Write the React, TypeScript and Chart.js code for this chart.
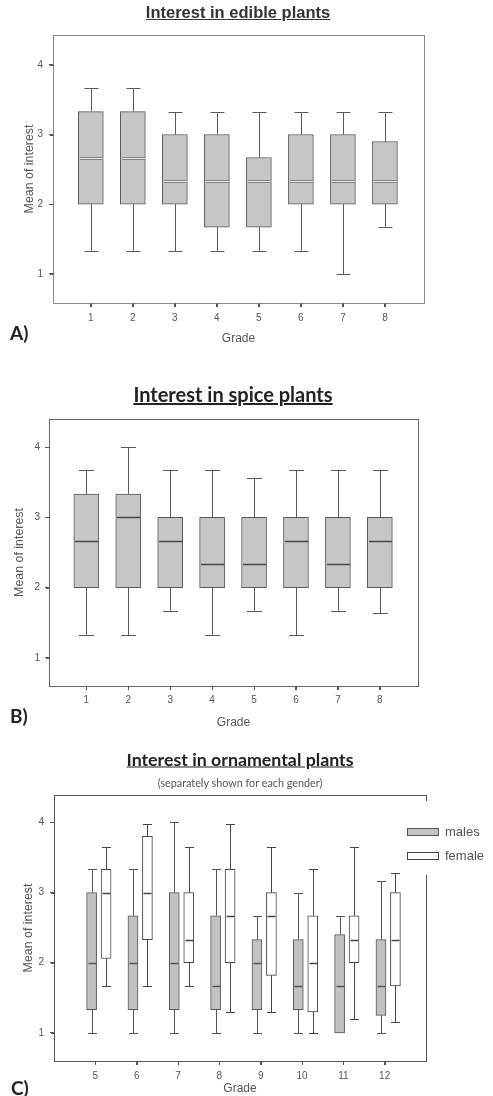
import { useEffect, useRef } from 'react';
import { Chart, registerables } from 'chart.js';

Chart.register(...registerables);

// ---------- DATA ----------
const gradesAB = [1, 2, 3, 4, 5, 6, 7, 8];

const edibleMin = [1.33, 1.33, 1.33, 1.33, 1.33, 1.33, 1.0, 1.67];
const edibleQ1 = [2, 2, 2, 1.67, 1.67, 2, 2, 2];
const edibleMedian = [2.67, 2.67, 2.33, 2.33, 2.33, 2.33, 2.33, 2.33];
const edibleQ3 = [3.33, 3.33, 3, 3, 2.67, 3, 3, 2.9];
const edibleMax = [3.67, 3.67, 3.33, 3.33, 3.33, 3.33, 3.33, 3.33];

const spiceMin = [1.33, 1.33, 1.67, 1.33, 1.67, 1.33, 1.67, 1.64];
const spiceQ1 = [2, 2, 2, 2, 2, 2, 2, 2];
const spiceMedian = [2.67, 3, 2.67, 2.33, 2.33, 2.67, 2.33, 2.67];
const spiceQ3 = [3.33, 3.33, 3, 3, 3, 3, 3, 3];
const spiceMax = [3.67, 4, 3.67, 3.67, 3.56, 3.67, 3.67, 3.67];

const gradesC = [5, 6, 7, 8, 9, 10, 11, 12];

const malesMin = [1, 1, 1, 1, 1, 1, 1, 1];
const malesQ1 = [1.33, 1.33, 1.33, 1.33, 1.33, 1.33, 1.0, 1.25];
const malesMedian = [2, 2, 2, 1.67, 2, 1.67, 1.67, 1.67];
const malesQ3 = [3, 2.67, 3, 2.67, 2.33, 2.33, 2.4, 2.33];
const malesMax = [3.33, 3.33, 4, 3.33, 2.67, 3, 2.67, 3.17];

const femalesMin = [1.67, 1.67, 1.67, 1.3, 1.3, 1.0, 1.2, 1.15];
const femalesQ1 = [2.06, 2.33, 2.0, 2.0, 1.82, 1.3, 2.0, 1.67];
const femalesMedian = [3, 3, 2.33, 2.67, 2.67, 2.0, 2.33, 2.33];
const femalesQ3 = [3.33, 3.8, 3, 3.33, 3, 2.67, 2.67, 3];
const femalesMax = [3.65, 3.97, 3.65, 3.97, 3.65, 3.33, 3.65, 3.28];

const yTickValues = [1, 2, 3, 4];

const legendLabels = ['males', 'female'];

// ---------- STYLE / LAYOUT ----------
const W = 493;
const AXIS_FONT = 'Liberation Sans, Arial, sans-serif';

type Group = {
  label: string;
  grades: number[];
  offset: number;
  min: number[];
  q1: number[];
  med: number[];
  q3: number[];
  max: number[];
  fill: string;
  border: string;
  barW: number;
  capW: number;
  medianMode: 'light' | 'dark';
  medianColor: string;
};

type Cfg = {
  height: number;
  area: { left: number; top: number; right: number; bottom: number };
  xMin: number;
  xMax: number;
  yMin: number;
  yMax: number;
  xTicks: number[];
  groups: Group[];
  frameColor: string;
  yTitlePad: number;
  xTitlePad: number;
  xTickPad: number;
  yTickPad: number;
  legend?: boolean;
};

const whiskerPlugin = {
  id: 'whiskers',
  afterDatasetsDraw(chart: any, _args: any, opts: any) {
    const { ctx } = chart;
    const x = chart.scales.x;
    const y = chart.scales.y;
    const groups: Group[] = opts.groups || [];
    ctx.save();
    groups.forEach((g) => {
      g.grades.forEach((gr, i) => {
        const cx = Math.round(x.getPixelForValue(gr + g.offset)) + 0.5;
        const pMax = Math.round(y.getPixelForValue(g.max[i])) + 0.5;
        const pQ3 = y.getPixelForValue(g.q3[i]);
        const pQ1 = y.getPixelForValue(g.q1[i]);
        const pMin = Math.round(y.getPixelForValue(g.min[i])) + 0.5;
        const pMed = Math.round(y.getPixelForValue(g.med[i])) + 0.5;
        ctx.strokeStyle = g.border;
        ctx.lineWidth = 1;
        ctx.beginPath();
        if (g.max[i] > g.q3[i]) {
          ctx.moveTo(cx, pQ3);
          ctx.lineTo(cx, pMax);
          ctx.moveTo(cx - g.capW / 2, pMax);
          ctx.lineTo(cx + g.capW / 2, pMax);
        }
        if (g.min[i] < g.q1[i]) {
          ctx.moveTo(cx, pQ1);
          ctx.lineTo(cx, pMin);
          ctx.moveTo(cx - g.capW / 2, pMin);
          ctx.lineTo(cx + g.capW / 2, pMin);
        }
        ctx.stroke();
        const half = g.barW / 2 - 1;
        if (g.medianMode === 'light') {
          ctx.strokeStyle = '#808080';
          ctx.lineWidth = 3;
          ctx.beginPath();
          ctx.moveTo(cx - half, pMed);
          ctx.lineTo(cx + half, pMed);
          ctx.stroke();
          ctx.strokeStyle = '#ececec';
          ctx.lineWidth = 1;
          ctx.beginPath();
          ctx.moveTo(cx - half, pMed);
          ctx.lineTo(cx + half, pMed);
          ctx.stroke();
        } else {
          ctx.strokeStyle = g.medianColor;
          ctx.lineWidth = 1.5;
          ctx.beginPath();
          ctx.moveTo(cx - half, pMed);
          ctx.lineTo(cx + half, pMed);
          ctx.stroke();
        }
      });
    });
    ctx.restore();
  },
};

const framePlugin = {
  id: 'frame',
  afterDraw(chart: any, _args: any, opts: any) {
    const { ctx, chartArea } = chart;
    const { left, top, right, bottom } = chartArea;
    const xs = chart.scales.x;
    const ys = chart.scales.y;
    ctx.save();
    ctx.strokeStyle = opts.color;
    ctx.lineWidth = 1;
    ctx.strokeRect(Math.round(left) + 0.5, Math.round(top) + 0.5, Math.round(right - left), Math.round(bottom - top));
    // tick marks
    ctx.strokeStyle = '#555';
    ctx.beginPath();
    xs.ticks.forEach((t: any) => {
      const px = Math.round(xs.getPixelForValue(t.value)) + 0.5;
      ctx.moveTo(px, Math.round(bottom));
      ctx.lineTo(px, Math.round(bottom) + 4);
    });
    ys.ticks.forEach((t: any) => {
      const py = Math.round(ys.getPixelForValue(t.value)) + 0.5;
      ctx.moveTo(Math.round(left) - 3, py);
      ctx.lineTo(Math.round(left) + 1, py);
    });
    ctx.stroke();
    if (opts.legend) {
      const groups: Group[] = opts.groups;
      ctx.fillStyle = '#ffffff';
      ctx.fillRect(402, top + 6, W - 402, 74);
      groups.forEach((g, i) => {
        const cy = top + 37 + i * 24;
        ctx.fillStyle = g.fill;
        ctx.fillRect(407, cy - 3, 31, 6);
        ctx.strokeStyle = g.border;
        ctx.lineWidth = 1;
        ctx.strokeRect(407.5, cy - 3.5, 31, 7);
        ctx.fillStyle = '#555555';
        ctx.font = `13px ${AXIS_FONT}`;
        ctx.textBaseline = 'middle';
        ctx.textAlign = 'left';
        ctx.fillText(legendLabels[i], 445, cy);
      });
    }
    ctx.restore();
  },
};

function buildChart(canvas: HTMLCanvasElement, cfg: Cfg) {
  const datasets = cfg.groups.map((g) => ({
    type: 'bar' as const,
    label: g.label,
    data: g.grades.map((gr, i) => ({ x: gr + g.offset, y: [g.q1[i], g.q3[i]] })),
    backgroundColor: g.fill,
    borderColor: g.border,
    borderWidth: 1,
    borderSkipped: false,
    barThickness: g.barW,
    grouped: false,
  }));
  const H = cfg.height;
  return new Chart(canvas, {
    type: 'bar',
    data: { datasets } as any,
    plugins: [whiskerPlugin, framePlugin],
    options: {
      responsive: false,
      animation: false,
      events: [],
      layout: { padding: { left: 0, top: cfg.area.top, right: W - cfg.area.right, bottom: 0 } },
      plugins: {
        legend: { display: false },
        tooltip: { enabled: false },
        title: { display: false },
        whiskers: { groups: cfg.groups },
        frame: { color: cfg.frameColor, legend: cfg.legend, groups: cfg.groups },
      } as any,
      scales: {
        x: {
          type: 'linear',
          min: cfg.xMin,
          max: cfg.xMax,
          offset: false,
          afterBuildTicks: (s: any) => {
            s.ticks = cfg.xTicks.map((v) => ({ value: v }));
          },
          afterFit: (s: any) => {
            s.height = H - cfg.area.bottom;
          },
          grid: { drawOnChartArea: false, drawTicks: true, tickLength: 4, color: '#555', lineWidth: 1, offset: false },
          border: { display: true, color: cfg.frameColor },
          ticks: {
            font: { family: AXIS_FONT, size: 10 },
            color: '#555',
            padding: cfg.xTickPad,
            maxRotation: 0,
            autoSkip: false,
            callback: (v: any) => String(v),
          },
          title: {
            display: true,
            text: 'Grade',
            font: { family: AXIS_FONT, size: 12 },
            color: '#555',
            padding: { top: 0, bottom: cfg.xTitlePad },
          },
        },
        y: {
          type: 'linear',
          min: cfg.yMin,
          max: cfg.yMax,
          afterBuildTicks: (s: any) => {
            s.ticks = yTickValues.map((v) => ({ value: v }));
          },
          afterFit: (s: any) => {
            s.width = cfg.area.left;
          },
          grid: { drawOnChartArea: false, drawTicks: true, tickLength: 4, color: '#555', lineWidth: 1, offset: false },
          border: { display: true, color: cfg.frameColor },
          ticks: {
            font: { family: AXIS_FONT, size: 10 },
            color: '#555',
            padding: cfg.yTickPad,
            callback: (v: any) => String(v),
          },
          title: {
            display: true,
            text: 'Mean of interest',
            font: { family: AXIS_FONT, size: 12.4 },
            color: '#555',
            padding: { top: cfg.yTitlePad, bottom: 0 },
          },
        },
      },
    } as any,
  });
}

const BOX_FILL = '#c6c6c6';
const BOX_BORDER = '#5a5a5a';

const cfgA: Cfg = {
  height: 350,
  area: { left: 53, top: 35, right: 424, bottom: 303 },
  xMin: 0.1,
  xMax: 8.93,
  yMin: 0.58,
  yMax: 4.43,
  xTicks: gradesAB,
  frameColor: '#8a8a8a',
  yTitlePad: 22.5,
  xTitlePad: 3.8,
  xTickPad: 5,
  yTickPad: 6,
  groups: [
    {
      label: 'edible',
      grades: gradesAB,
      offset: 0,
      min: edibleMin,
      q1: edibleQ1,
      med: edibleMedian,
      q3: edibleQ3,
      max: edibleMax,
      fill: BOX_FILL,
      border: BOX_BORDER,
      barW: 25,
      capW: 14,
      medianMode: 'light',
      medianColor: '#eee',
    },
  ],
};

const cfgB: Cfg = {
  height: 390,
  area: { left: 49, top: 69, right: 418, bottom: 336 },
  xMin: 0.11,
  xMax: 8.91,
  yMin: 0.6,
  yMax: 4.4,
  xTicks: gradesAB,
  frameColor: '#666666',
  yTitlePad: 12.5,
  xTitlePad: 9.8,
  xTickPad: 4,
  yTickPad: 5,
  groups: [
    {
      label: 'spice',
      grades: gradesAB,
      offset: 0,
      min: spiceMin,
      q1: spiceQ1,
      med: spiceMedian,
      q3: spiceQ3,
      max: spiceMax,
      fill: BOX_FILL,
      border: BOX_BORDER,
      barW: 25,
      capW: 15,
      medianMode: 'dark',
      medianColor: '#444',
    },
  ],
};

const cfgC: Cfg = {
  height: 356,
  area: { left: 54, top: 55, right: 426, bottom: 321 },
  xMin: 4.0,
  xMax: 13.0,
  yMin: 0.6,
  yMax: 4.39,
  xTicks: gradesC,
  frameColor: '#555555',
  yTitlePad: 21.5,
  xTitlePad: 0,
  xTickPad: 5,
  yTickPad: 6,
  legend: true,
  groups: [
    {
      label: 'males',
      grades: gradesC,
      offset: -0.09,
      min: malesMin,
      q1: malesQ1,
      med: malesMedian,
      q3: malesQ3,
      max: malesMax,
      fill: '#c2c2c2',
      border: '#555555',
      barW: 10,
      capW: 9,
      medianMode: 'dark',
      medianColor: '#555',
    },
    {
      label: 'female',
      grades: gradesC,
      offset: 0.26,
      min: femalesMin,
      q1: femalesQ1,
      med: femalesMedian,
      q3: femalesQ3,
      max: femalesMax,
      fill: '#ffffff',
      border: '#444444',
      barW: 10,
      capW: 9,
      medianMode: 'dark',
      medianColor: '#444',
    },
  ],
};

function Text(props: {
  x: number;
  y: number;
  size: number;
  family: string;
  bold?: boolean;
  underline?: boolean;
  color?: string;
  align?: 'center' | 'left';
  children: string;
}) {
  const { x, y, size, family, bold, underline, color, align = 'center', children } = props;
  return (
    <div
      style={{
        position: 'absolute',
        left: x,
        top: y,
        transform: align === 'center' ? 'translate(-50%, -50%)' : 'translate(0, -50%)',
        whiteSpace: 'nowrap',
        fontFamily: family,
        fontSize: size,
        lineHeight: `${Math.round(size * 1.2)}px`,
        fontWeight: bold ? 700 : 400,
        textDecoration: underline ? 'underline' : 'none',
        color: color || '#222',
      }}
    >
      {children}
    </div>
  );
}

export default function App() {
  const refA = useRef<HTMLCanvasElement>(null);
  const refB = useRef<HTMLCanvasElement>(null);
  const refC = useRef<HTMLCanvasElement>(null);

  useEffect(() => {
    const charts: Chart[] = [];
    if (refA.current) charts.push(buildChart(refA.current, cfgA));
    if (refB.current) charts.push(buildChart(refB.current, cfgB));
    if (refC.current) charts.push(buildChart(refC.current, cfgC));
    return () => charts.forEach((c) => c.destroy());
  }, []);

  return (
    <div
      style={{
        position: 'absolute',
        left: 0,
        top: 0,
        width: W,
        height: 1096,
        background: '#ffffff',
        overflow: 'hidden',
      }}
    >
      <canvas ref={refA} width={W} height={350} style={{ position: 'absolute', left: 0, top: 0, width: W, height: 350 }} />
      <canvas ref={refB} width={W} height={390} style={{ position: 'absolute', left: 0, top: 350, width: W, height: 390 }} />
      <canvas ref={refC} width={W} height={356} style={{ position: 'absolute', left: 0, top: 740, width: W, height: 356 }} />

      <Text x={238} y={12} size={16.5} family="Liberation Sans, Arial, sans-serif" bold underline color="#333">
        Interest in edible plants
      </Text>
      <Text x={10} y={332} size={19} family="Lato, sans-serif" bold align="left">
        A)
      </Text>

      <Text x={233} y={394} size={20} family="Lato, sans-serif" bold underline>
        Interest in spice plants
      </Text>
      <Text x={10} y={715} size={19} family="Lato, sans-serif" bold align="left">
        B)
      </Text>

      <Text x={240} y={759} size={17.8} family="Lato, sans-serif" bold underline>
        Interest in ornamental plants
      </Text>
      <Text x={240} y={782} size={10.8} family="Lato, sans-serif" color="#555">
        (separately shown for each gender)
      </Text>
      <Text x={11} y={1087} size={19} family="Lato, sans-serif" bold align="left">
        C)
      </Text>
    </div>
  );
}
